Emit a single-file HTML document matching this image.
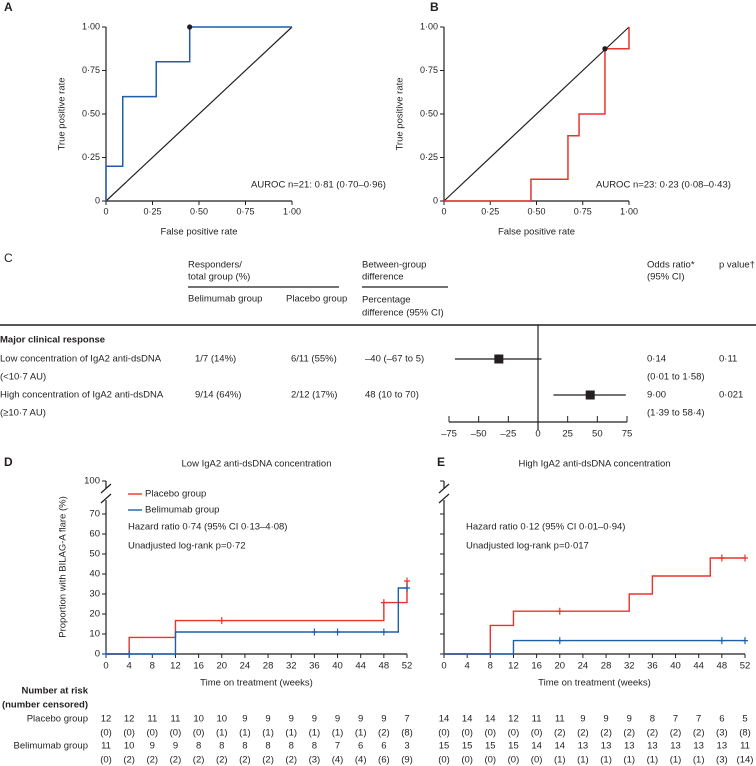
<!DOCTYPE html>
<html><head><meta charset="utf-8"><style>
body{margin:0;background:#fff;}
svg{display:block;font-family:"Liberation Sans",sans-serif;}
text{fill:#231f20;}
</style></head><body>
<svg id="fig" width="756" height="766" viewBox="0 0 756 766" xmlns="http://www.w3.org/2000/svg"></svg>
<script>
// ROC data
const rocA_fpr=[0,0,0.09,0.09,0.27,0.27,0.45,0.45,1];
const rocA_tpr=[0,0.2,0.2,0.6,0.6,0.8,0.8,1,1];
const rocA_dot=[0.45,1];
const rocB_fpr=[0,0.47,0.47,0.67,0.67,0.73,0.73,0.87,0.87,1,1];
const rocB_tpr=[0,0,0.125,0.125,0.375,0.375,0.5,0.5,0.875,0.875,1];
const rocB_dot=[0.87,0.875];
const rocTicks=[0,0.25,0.5,0.75,1];
const rocTickLabels=["0","0·25","0·50","0·75","1·00"];
// forest data
const forestEst=[-33,44];
const forestLo=[-70,13];
const forestHi=[3,74];
const forestTicks=[-75,-50,-25,0,25,50,75];
// KM data
const kmD_plac_t=[0,4,12,48,52];
const kmD_plac_v=[0,8.3,16.7,25.7,36.5];
const kmD_plac_cens=[[20,16.7],[48,25.7],[52,36.5]];
const kmD_beli_t=[0,12,50.5,52];
const kmD_beli_v=[0,11,33,33];
const kmD_beli_cens=[[0,0],[4,0],[36,11],[40,11],[48,11],[52,33]];
const kmE_plac_t=[0,8,12,32,36,46,52];
const kmE_plac_v=[0,14.3,21.4,30,39,48,48];
const kmE_plac_cens=[[20,21.4],[48,48],[52,48]];
const kmE_beli_t=[0,12,52];
const kmE_beli_v=[0,6.7,6.7];
const kmE_beli_cens=[[20,6.7],[48,6.7],[52,6.7]];
const kmTicks=[0,4,8,12,16,20,24,28,32,36,40,44,48,52];
const kmYTicks=[0,10,20,30,40,50,60,70];
const riskD_plac=["12","12","11","11","10","10","9","9","9","9","9","9","9","7"];
const riskD_placC=["(0)","(0)","(0)","(0)","(0)","(1)","(1)","(1)","(1)","(1)","(1)","(1)","(2)","(8)"];
const riskD_beli=["11","10","9","9","8","8","8","8","8","8","7","6","6","3"];
const riskD_beliC=["(0)","(2)","(2)","(2)","(2)","(2)","(2)","(2)","(2)","(3)","(4)","(4)","(6)","(9)"];
const riskE_plac=["14","14","14","12","11","11","9","9","9","8","7","7","6","5"];
const riskE_placC=["(0)","(0)","(0)","(0)","(0)","(2)","(2)","(2)","(2)","(2)","(2)","(2)","(3)","(8)"];
const riskE_beli=["15","15","15","15","14","14","13","13","13","13","13","13","13","11"];
const riskE_beliC=["(0)","(0)","(0)","(0)","(0)","(1)","(1)","(1)","(1)","(1)","(1)","(1)","(3)","(14)"];

const NS="http://www.w3.org/2000/svg";
const svg=document.getElementById('fig');
const RED="#e8342f",BLUE="#1f5ea8",DK="#231f20";
function el(tag,attrs,parent){const e=document.createElementNS(NS,tag);for(const k in attrs)e.setAttribute(k,attrs[k]);(parent||svg).appendChild(e);return e;}
function txt(x,y,s,size,anchor,parent,weight){const t=el('text',{x:x,y:y,'font-size':size||10,'text-anchor':anchor||'start','dominant-baseline':'middle'},parent);if(weight)t.setAttribute('font-weight',weight);t.textContent=s;return t;}

// ---------- ROC panels
function roc(x0,x1,y0,y1,fpr,tpr,dot,col,letter,lx,auroc,ax,name){
  const g=el('g',{});
  
  
  const sx=v=>x0+v*(x1-x0), sy=v=>y0-v*(y0-y1);
  const L=txt(lx,8,letter,12,'start',g,'bold');
  
  el('line',{x1:x0,y1:y1,x2:x0,y2:y0,stroke:DK,'stroke-width':1.2},g);
  el('line',{x1:x0,y1:y0,x2:x1,y2:y0,stroke:DK,'stroke-width':1.2},g);
  rocTicks.forEach((v,i)=>{
    el('line',{x1:x0-4,y1:sy(v),x2:x0,y2:sy(v),stroke:DK},g);
    const t=txt(x0-6,sy(v),rocTickLabels[i],9,'end',g);
    
    el('line',{x1:sx(v),y1:y0,x2:sx(v),y2:y0+4,stroke:DK},g);
    const t2=txt(sx(v),y0+11,rocTickLabels[i],9,'middle',g);
    
  });
  const yt=txt(0,0,'True positive rate',9.5,'middle',g);
  yt.setAttribute('transform',`translate(${x0-44},${(y0+y1)/2}) rotate(-90)`);
  
  const xt=txt((x0+x1)/2,232,'False positive rate',9.5,'middle',g);
  
  const diag=el('line',{x1:sx(0),y1:sy(0),x2:sx(1),y2:sy(1),stroke:DK,'stroke-width':1.2},g);
  
  const pts=fpr.map((f,i)=>sx(f)+','+sy(tpr[i])).join(' ');
  const pl=el('polyline',{points:pts,fill:'none',stroke:col,'stroke-width':1.5},g);
  
  const d=el('circle',{cx:sx(dot[0]),cy:sy(dot[1]),r:2.6,fill:DK},g);
  
  const a=txt(ax,185,auroc,9.5,'start',g);
  
}
roc(106,292,201,27,rocA_fpr,rocA_tpr,rocA_dot,BLUE,'A',4,'AUROC n=21: 0·81 (0·70–0·96)',251,'panel-a-roc');
roc(444,629,201,27,rocB_fpr,rocB_tpr,rocB_dot,RED,'B',430,'AUROC n=23: 0·23 (0·08–0·43)',596,'panel-b-roc');

// ---------- Panel C forest
(function(){
  const g=el('g',{});
  
  
  const L=txt(4,259,'C',12,'start',g);
  
  const hs=9.5;
  [[188,265,'Responders/'],[188,277,'total group (%)'],[362,265,'Between-group'],[362,277,'difference'],
   [188,299,'Belimumab group'],[286,299,'Placebo group'],[362,300,'Percentage'],[362,313,'difference (95% CI)'],
   [647,265,'Odds ratio*'],[647,277,'(95% CI)'],[719,265,'p value†']].forEach(a=>{
    const t=txt(a[0],a[1],a[2],hs,'start',g);});
  el('line',{x1:188,y1:287,x2:339,y2:287,stroke:DK,'stroke-width':1.2},g);
  el('line',{x1:362,y1:287,x2:448,y2:287,stroke:DK,'stroke-width':1.2},g);
  el('line',{x1:0,y1:325,x2:756,y2:325,stroke:DK,'stroke-width':1.4},g);
  const mc=txt(0,340,'Major clinical response',9.5,'start',g,'bold');
  
  const rows=[[359,'Low concentration of IgA2 anti-dsDNA','1/7 (14%)','6/11 (55%)','–40 (–67 to 5)','0·14','0·11'],
              [377,'(<10·7 AU)','','','','(0·01 to 1·58)',''],
              [395,'High concentration of IgA2 anti-dsDNA','9/14 (64%)','2/12 (17%)',' 48 (10 to 70)','9·00','0·021'],
              [413,'(≥10·7 AU)','','','','(1·39 to 58·4)','']];
  rows.forEach(r=>{[0,195,291,365,647,719].forEach((x,i)=>{if(r[i+1]){const t=txt(x,r[0],r[i+1],9.5,'start',g);}});});
  const fx=v=>538+v*(627-449)/150;
  el('line',{x1:fx(0),y1:325,x2:fx(0),y2:430,stroke:DK,'stroke-width':1.2},g);
  el('line',{x1:fx(-75),y1:422,x2:fx(75),y2:422,stroke:DK,'stroke-width':1.2},g);
  forestTicks.forEach(v=>{el('line',{x1:fx(v),y1:416,x2:fx(v),y2:422,stroke:DK},g);
    const t=txt(fx(v),434,v<0?'–'+(-v):String(v),9.5,'middle',g);});
  const ys=[359,395];
  forestEst.forEach((e,i)=>{
    const w=el('line',{x1:fx(forestLo[i]),y1:ys[i],x2:fx(forestHi[i]),y2:ys[i],stroke:DK,'stroke-width':1.2},g);
    
    const s=el('rect',{x:fx(e)-4.5,y:ys[i]-4.5,width:9,height:9,fill:DK},g);
    
  });
})();

// ---------- KM panels
function km(x0,x1,letter,lx,title,series,showY,hr,p,name,showLegend){
  const g=el('g',{});
  
  
  const y0=654, sx=v=>x0+v*(x1-x0)/52, sy=v=>y0-v*2;
  const L=txt(lx,463,letter,12,'start',g,'bold');
  
  const T=txt((x0+x1)/2,464,title,9.5,'middle',g);
  
  el('line',{x1:x0,y1:481,x2:x0,y2:488,stroke:DK,'stroke-width':1.2},g);
  el('line',{x1:x0,y1:500,x2:x0,y2:y0,stroke:DK,'stroke-width':1.2},g);
  el('line',{x1:x0-5,y1:493,x2:x0+5,y2:484,stroke:DK,'stroke-width':1.2},g);
  el('line',{x1:x0-5,y1:503,x2:x0+5,y2:494,stroke:DK,'stroke-width':1.2},g);
  el('line',{x1:x0-4,y1:481,x2:x0,y2:481,stroke:DK},g);
  if(showY){const t=txt(x0-6,481,'100',9.5,'end',g);}
  kmYTicks.forEach(v=>{el('line',{x1:x0-4,y1:sy(v),x2:x0,y2:sy(v),stroke:DK},g);
    if(showY){const t=txt(x0-6,sy(v),String(v),9.5,'end',g);}});
  el('line',{x1:x0,y1:y0,x2:x1,y2:y0,stroke:DK,'stroke-width':1.2},g);
  kmTicks.forEach(v=>{el('line',{x1:sx(v),y1:y0,x2:sx(v),y2:y0+4,stroke:DK},g);
    const t=txt(sx(v),666,String(v),9.5,'middle',g);});
  const xt=txt((x0+x1)/2,683,'Time on treatment (weeks)',9.5,'middle',g);
  
  if(showY){const yt=txt(0,0,'Proportion with BILAG-A flare (%)',9.5,'middle',g);
    yt.setAttribute('transform',`translate(63,567) rotate(-90)`);}
  series.forEach(s=>{
    let pts=[];s.t.forEach((t,i)=>{if(i>0)pts.push(sx(t)+','+sy(s.v[i-1]));pts.push(sx(t)+','+sy(s.v[i]));});
    const pl=el('polyline',{points:pts.join(' '),fill:'none',stroke:s.col,'stroke-width':1.4},g);
    
    s.c.forEach(c=>{const m=el('path',{d:`M${sx(c[0])-3},${sy(c[1])}h6M${sx(c[0])},${sy(c[1])-3.5}v7`,stroke:s.col,'stroke-width':1.2},g);
      });
  });
  if(showLegend){
    el('line',{x1:x0+22,y1:494,x2:x0+36,y2:494,stroke:RED,'stroke-width':1.4},g);
    const a=txt(x0+39,494,'Placebo group',9.5,'start',g);
    el('line',{x1:x0+22,y1:510,x2:x0+36,y2:510,stroke:BLUE,'stroke-width':1.4},g);
    const b=txt(x0+39,510,'Belimumab group',9.5,'start',g);
  }
  const h=txt(x0+22,527,hr,9.5,'start',g);
  const pp=txt(x0+22,546,p,9.5,'start',g);
  return sx;
}
const sxD=km(106,407,'D',4,'Low IgA2 anti-dsDNA concentration',[
  {t:kmD_plac_t,v:kmD_plac_v,c:kmD_plac_cens,col:RED,name:'placebo-curve'},
  {t:kmD_beli_t,v:kmD_beli_v,c:kmD_beli_cens,col:BLUE,name:'belimumab-curve'}],true,
  'Hazard ratio 0·74 (95% CI 0·13–4·08)','Unadjusted log-rank p=0·72','panel-d-km',true);
const sxE=km(444,745,'E',437,'High IgA2 anti-dsDNA concentration',[
  {t:kmE_plac_t,v:kmE_plac_v,c:kmE_plac_cens,col:RED,name:'placebo-curve'},
  {t:kmE_beli_t,v:kmE_beli_v,c:kmE_beli_cens,col:BLUE,name:'belimumab-curve'}],false,
  'Hazard ratio 0·12 (95% CI 0·01–0·94)','Unadjusted log-rank p=0·017','panel-e-km',false);

// risk table
(function(){
  const g=el('g',{});
  
  
  [[691,'Number at risk','bold'],[705,'(number censored)','bold'],[719,'Placebo group',''],[746,'Belimumab group','']].forEach(r=>{
    const t=txt(88,r[0],r[1],9.5,'end',g,r[2]||null);});
  const rowsD=[[719,riskD_plac],[733,riskD_placC],[746,riskD_beli],[760,riskD_beliC]];
  const rowsE=[[719,riskE_plac],[733,riskE_placC],[746,riskE_beli],[760,riskE_beliC]];
  rowsD.forEach(r=>r[1].forEach((s,i)=>{const t=txt(sxD(kmTicks[i]),r[0],s,9.5,'middle',g);}));
  rowsE.forEach(r=>r[1].forEach((s,i)=>{const t=txt(sxE(kmTicks[i]),r[0],s,9.5,'middle',g);}));
})();
</script>
</body></html>
